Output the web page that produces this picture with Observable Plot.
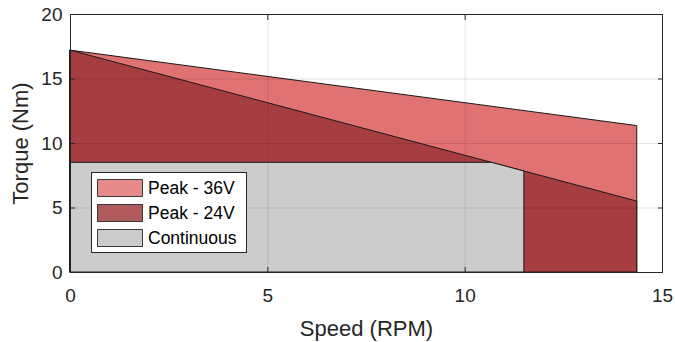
<!DOCTYPE html>
<html><head><meta charset="utf-8">
<script src="https://cdn.jsdelivr.net/npm/d3@7"></script>
<script src="https://cdn.jsdelivr.net/npm/@observablehq/plot@0.6"></script>
<style>
body{margin:0;background:#fff;}
#wrap{position:relative;width:675px;height:342px;font-family:"Liberation Sans",Arial,Helvetica,sans-serif;}
#legend{position:absolute;left:91px;top:172px;width:154px;height:79px;border:1px solid #262626;background:#fff;}
.row{position:absolute;left:5px;height:18px;display:flex;align-items:center;font-size:17.5px;color:#000;white-space:nowrap;}
.sw{width:44px;height:16px;border:1px solid #3a3a3a;margin-right:5px;}
</style></head>
<body>
<div id="wrap"></div>
<script>
// Data
const peakSpeed = [0, 14.36];
const peak36Torque = [17.2, 11.35];
const peak24Torque = [17.2, 5.5];
const contSpeed = [0, 10.68, 11.5];
const contTorque = [8.5, 8.5, 7.83];
const xTicks = [0, 5, 10, 15];
const yTicks = [0, 5, 10, 15, 20];
const seriesNames = ["Peak - 36V", "Peak - 24V", "Continuous"];
const seriesFill = ["#E07272", "#A63D40", "#CCCCCC"];
const legendFill = ["#E68A8A", "#B05A5C", "#CCCCCC"];

const d36 = peakSpeed.map((s, i) => ({s, t: peak36Torque[i]}));
const d24 = peakSpeed.map((s, i) => ({s, t: peak24Torque[i]}));
const dc = contSpeed.map((s, i) => ({s, t: contTorque[i]}));

const ink = "#262626";
const chart = Plot.plot({
  width: 675, height: 342,
  marginLeft: 70, marginRight: 13, marginTop: 14, marginBottom: 70,
  style: {fontFamily: '"Liberation Sans", Arial, Helvetica, sans-serif', fontSize: "19px", color: ink, background: "#fff"},
  x: {domain: [0, 15]},
  y: {domain: [0, 20]},
  marks: [
    Plot.areaY(d36, {x: "s", y: "t", fill: seriesFill[0], stroke: "#1a1a1a", strokeWidth: 1}),
    Plot.areaY(d24, {x: "s", y: "t", fill: seriesFill[1], stroke: "#1a1a1a", strokeWidth: 1}),
    Plot.areaY(dc, {x: "s", y: "t", fill: seriesFill[2], stroke: "#1a1a1a", strokeWidth: 1}),
    Plot.gridX(xTicks.slice(1, -1), {stroke: "#000", strokeOpacity: 0.1}),
    Plot.gridY(yTicks.slice(1, -1), {stroke: "#000", strokeOpacity: 0.1}),
    Plot.frame({stroke: ink, strokeWidth: 1}),
    Plot.axisX(xTicks, {anchor: "bottom", tickSize: -5, tickPadding: 21, stroke: ink, fill: ink,
      label: "Speed (RPM)", labelAnchor: "center", labelOffset: 63, labelArrow: "none", fontSize: 19}),
    Plot.axisX(xTicks, {anchor: "top", tickSize: -5, tickFormat: () => "", stroke: ink, label: null}),
    Plot.axisY(yTicks, {anchor: "left", tickSize: -5, tickPadding: 13, stroke: ink, fill: ink,
      label: "Torque (Nm)", labelAnchor: "center", labelOffset: 58, labelArrow: "none", fontSize: 19}),
    Plot.axisY(yTicks, {anchor: "right", tickSize: -5, tickFormat: () => "", stroke: ink, label: null})
  ]
});
chart.querySelectorAll('[aria-label$="axis label"] text, [aria-label$="axis label"]').forEach(e => e.setAttribute("font-size", "22px"));
const wrap = document.getElementById("wrap");
wrap.appendChild(chart);

const leg = document.createElement("div");
leg.id = "legend";
seriesNames.forEach((n, i) => {
  const r = document.createElement("div");
  r.className = "row";
  r.style.top = (6 + i * 25) + "px";
  const sw = document.createElement("div");
  sw.className = "sw";
  sw.style.background = legendFill[i];
  r.appendChild(sw);
  r.appendChild(document.createTextNode(n));
  leg.appendChild(r);
});
wrap.appendChild(leg);
</script>
</body></html>
